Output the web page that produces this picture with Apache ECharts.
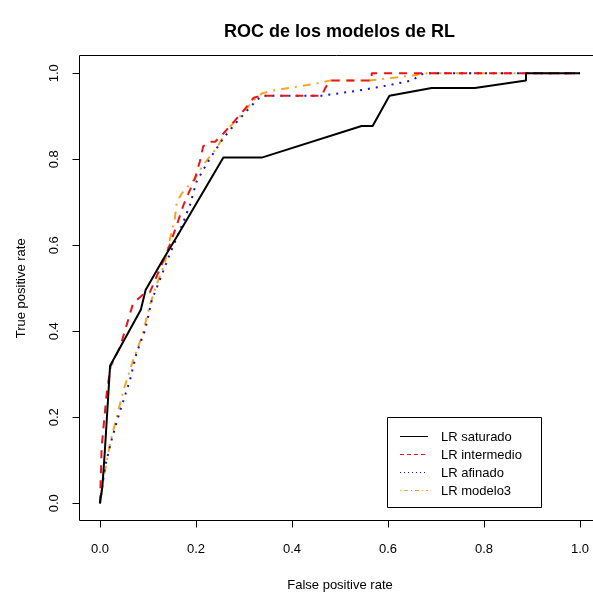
<!DOCTYPE html>
<html>
<head>
<meta charset="utf-8">
<script src="https://cdn.jsdelivr.net/npm/echarts@6/dist/echarts.min.js"></script>
<style>
  html, body { margin: 0; padding: 0; background: #fff; }
  #chart { width: 593px; height: 595px; }
</style>
</head>
<body>
<div id="chart"></div>
<script>
// ROC curves of four logistic regression models (FPR on x, TPR on y)
const seriesNames = ["LR saturado", "LR intermedio", "LR afinado", "LR modelo3"];
const tickValues = [0, 0.2, 0.4, 0.6, 0.8, 1.0];

const fprSaturado = [0, 0.005, 0.01, 0.021, 0.085, 0.092, 0.095, 0.132, 0.16, 0.257, 0.337, 0.545, 0.568, 0.603, 0.691, 0.781, 0.8875, 0.8875, 1];
const tprSaturado = [0, 0.04, 0.12, 0.32, 0.45, 0.482, 0.496, 0.568, 0.62, 0.804, 0.804, 0.8775, 0.8775, 0.948, 0.966, 0.966, 0.983, 1, 1];

const fprIntermedio = [0, 0.0035, 0.014, 0.022, 0.042, 0.069, 0.094, 0.104, 0.14, 0.16, 0.174, 0.198, 0.208, 0.215, 0.228, 0.24, 0.257, 0.281, 0.302, 0.32, 0.337, 0.347, 0.462, 0.469, 0.479, 0.566, 0.566, 1];
const tprIntermedio = [0, 0.132, 0.256, 0.318, 0.364, 0.465, 0.49, 0.491, 0.585, 0.647, 0.694, 0.756, 0.795, 0.83, 0.841, 0.841, 0.86, 0.89, 0.917, 0.943, 0.948, 0.948, 0.948, 0.965, 0.983, 0.983, 1, 1];

const fprAfinado = [0, 0.0104, 0.024, 0.038, 0.0625, 0.076, 0.094, 0.108, 0.122, 0.146, 0.174, 0.1875, 0.201, 0.229, 0.257, 0.285, 0.32, 0.337, 0.462, 0.54, 0.6, 0.649, 0.674, 1];
const tprAfinado = [0, 0.085, 0.147, 0.201, 0.287, 0.349, 0.403, 0.473, 0.512, 0.581, 0.655, 0.694, 0.748, 0.802, 0.849, 0.887, 0.93, 0.948, 0.948, 0.96, 0.972, 0.983, 1, 1];

const fprModelo3 = [0, 0.007, 0.021, 0.049, 0.069, 0.087, 0.105, 0.12, 0.135, 0.142, 0.156, 0.16, 0.17, 0.198, 0.215, 0.243, 0.264, 0.299, 0.32, 0.337, 0.361, 0.44, 0.479, 0.56, 0.583, 0.66, 0.667, 1];
const tprModelo3 = [0, 0.054, 0.14, 0.263, 0.333, 0.387, 0.465, 0.515, 0.558, 0.597, 0.663, 0.70, 0.72, 0.756, 0.787, 0.826, 0.867, 0.91, 0.937, 0.953, 0.96, 0.974, 0.983, 0.983, 0.986, 0.996, 1, 1];

const pairs = (xs, ys) => xs.map((x, i) => [x, ys[i]]);

const FONT = "'Liberation Sans', Arial, sans-serif";
const styles = [
  { color: "#000000", type: "solid", legendDash: null },
  { color: "#E8141A", type: [8, 7], legendDash: [4, 3] },
  { color: "#1414C8", type: [2, 6], legendDash: [1, 3] },
  { color: "#F2A623", type: [2, 6, 8, 6], legendDash: [1, 3, 4, 3] }
];
const curves = [
  pairs(fprSaturado, tprSaturado),
  pairs(fprIntermedio, tprIntermedio),
  pairs(fprAfinado, tprAfinado),
  pairs(fprModelo3, tprModelo3)
];

const chart = echarts.init(document.getElementById("chart"), null, { renderer: "canvas" });

const axisCommon = {
  type: "value",
  min: 0,
  max: 1,
  interval: 0.2,
  splitLine: { show: false },
  axisLine: { show: true, onZero: false, lineStyle: { color: "#000", width: 1 } },
  axisTick: { show: true, length: 7, lineStyle: { color: "#000", width: 1 } },
  nameLocation: "middle",
  nameTextStyle: { fontFamily: FONT, fontSize: 13, color: "#000" }
};

// Boxed legend: a short line sample and a label per model
const legendBox = { x: 387.5, y: 417.5, width: 154, height: 90 };
const legendGraphics = [{
  type: "rect",
  shape: legendBox,
  style: { fill: "#fff", stroke: "#000", lineWidth: 1 },
  silent: true,
  z: 20
}];
seriesNames.forEach((name, i) => {
  const cy = 436 + i * 18;
  legendGraphics.push({
    type: "line",
    shape: { x1: 400, y1: cy + 0.5, x2: 428, y2: cy + 0.5 },
    style: { stroke: styles[i].color, lineWidth: 1, lineDash: styles[i].legendDash },
    silent: true,
    z: 21
  });
  legendGraphics.push({
    type: "text",
    x: 441,
    y: cy + 1,
    style: {
      text: name, fontFamily: FONT, fontSize: 13, fill: "#000",
      verticalAlign: "middle", align: "left"
    },
    silent: true,
    z: 21
  });
});

chart.setOption({
  animation: false,
  backgroundColor: "#fff",
  title: {
    text: "ROC de los modelos de RL",
    left: 334.5,
    top: 18,
    textAlign: "center",
    textStyle: { fontFamily: FONT, fontSize: 18, fontWeight: "bold", color: "#000" }
  },
  grid: { left: 100, top: 73.3, width: 480, height: 430, outerBoundsMode: "none", containLabel: false },
  xAxis: Object.assign({}, axisCommon, {
    position: "bottom",
    offset: 17.2,
    name: "False positive rate",
    nameGap: 58,
    axisLabel: {
      fontFamily: FONT, fontSize: 13, color: "#000", margin: 22,
      formatter: v => v.toFixed(1)
    }
  }),
  yAxis: Object.assign({}, axisCommon, {
    position: "left",
    offset: 20.5,
    name: "True positive rate",
    nameGap: 52,
    axisLabel: {
      fontFamily: FONT, fontSize: 13, color: "#000", margin: 19, rotate: 90,
      formatter: v => v.toFixed(1)
    }
  }),
  graphic: [
    {
      type: "rect",
      shape: { x: 79.5, y: 55.5, width: 520, height: 465 },
      style: { fill: "none", stroke: "#000", lineWidth: 1 },
      silent: true
    }
  ].concat(legendGraphics),
  series: seriesNames.map((name, i) => ({
    name: name,
    type: "line",
    data: curves[i],
    symbol: "none",
    showSymbol: false,
    clip: false,
    lineStyle: { color: styles[i].color, width: 2, type: styles[i].type },
    itemStyle: { color: styles[i].color },
    z: 10 - i
  }))
});
</script>
</body>
</html>
